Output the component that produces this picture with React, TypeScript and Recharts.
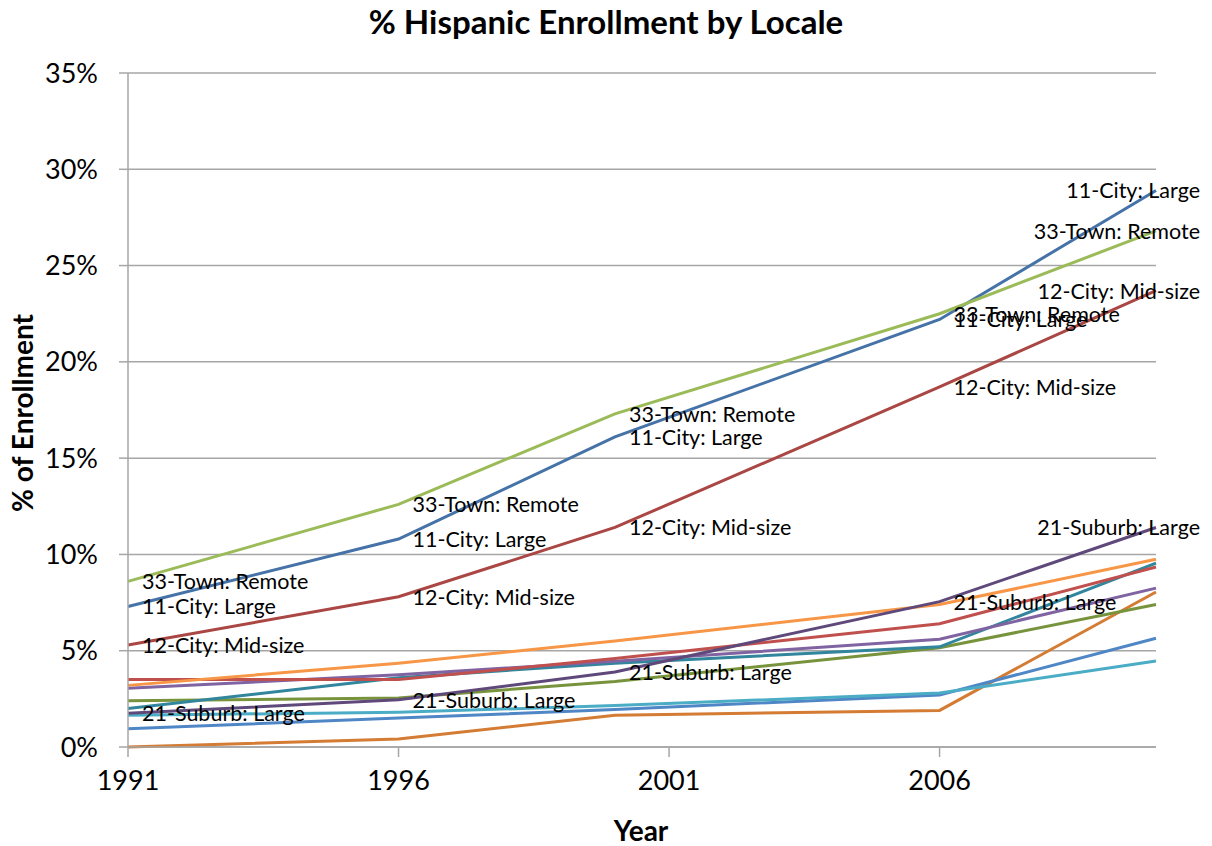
import { LineChart, Line, CartesianGrid, XAxis, YAxis, LabelList } from "recharts";

const years = [1991, 1996, 2000, 2006, 2010];
const xTicks = [1991, 1996, 2001, 2006];
const yTicks = [0, 5, 10, 15, 20, 25, 30, 35];

// % Hispanic enrollment
const townRemote = [8.6, 12.6, 17.3, 22.5, 26.8];
const cityLarge = [7.3, 10.8, 16.1, 22.2, 28.9];
const cityMid = [5.3, 7.8, 11.4, 18.7, 23.7];
const citySmall = [3.5, 3.5, 4.6, 6.4, 9.35];
const suburbMid = [3.2, 4.35, 5.5, 7.4, 9.75];
const suburbSmall = [3.05, 3.75, 4.45, 5.6, 8.25];
const townFringe = [2.4, 2.55, 3.4, 5.15, 7.4];
const townDistant = [2.0, 3.6, 4.35, 5.2, 9.55];
const suburbLarge = [1.75, 2.45, 3.9, 7.55, 11.4];
const ruralFringe = [1.65, 1.8, 2.15, 2.8, 4.47];
const ruralDistant = [0.95, 1.5, 1.95, 2.7, 5.65];
const ruralRemote = [0.0, 0.42, 1.65, 1.9, 8.05];

const series = [
  { key: "r43", name: "43-Rural: Remote", values: ruralRemote, color: "#D47B34", label: false },
  { key: "r42", name: "42-Rural: Distant", values: ruralDistant, color: "#4F86C6", label: false },
  { key: "r41", name: "41-Rural: Fringe", values: ruralFringe, color: "#4BACC6", label: false },
  { key: "t31", name: "31-Town: Fringe", values: townFringe, color: "#77933C", label: false },
  { key: "t32", name: "32-Town: Distant", values: townDistant, color: "#31859C", label: false },
  { key: "s23", name: "23-Suburb: Small", values: suburbSmall, color: "#8064A2", label: false },
  { key: "c13", name: "13-City: Small", values: citySmall, color: "#C0504D", label: false },
  { key: "s22", name: "22-Suburb: Mid-size", values: suburbMid, color: "#F79646", label: false },
  { key: "s21", name: "21-Suburb: Large", values: suburbLarge, color: "#5F497A", label: true },
  { key: "c12", name: "12-City: Mid-size", values: cityMid, color: "#AA4643", label: true },
  { key: "c11", name: "11-City: Large", values: cityLarge, color: "#4572A7", label: true },
  { key: "t33", name: "33-Town: Remote", values: townRemote, color: "#9BBB59", label: true },
];

const data = years.map((year, i) => {
  const row: Record<string, number> = { year };
  series.forEach((s) => {
    row[s.key] = s.values[i];
  });
  return row;
});

const FONT = "Lato, 'Open Sans', sans-serif";
const W = 1212;
const H = 846;

const makeLabel = (text: string) => (props: any) => {
  const { x, y, index } = props;
  const last = index === years.length - 1;
  return (
    <text
      x={last ? W - 12 : x + 14}
      y={y}
      textAnchor={last ? "end" : "start"}
      dominantBaseline="central"
      fontSize={21.5}
      fontFamily={FONT}
      fill="#000"
    >
      {text}
    </text>
  );
};

const App = () => {
  return (
    <div style={{ position: "absolute", left: 0, top: 0, width: W, height: H, background: "#fff", fontFamily: FONT }}>
      <div style={{ position: "absolute", left: 0, top: 1, width: W, textAlign: "center", fontSize: 33, fontWeight: 700, paddingLeft: 0 }}>
        % Hispanic Enrollment by Locale
      </div>
      <div
        style={{
          position: "absolute",
          left: 22,
          top: 413,
          transform: "translate(-50%, -50%) rotate(-90deg)",
          whiteSpace: "nowrap",
          fontSize: 28,
          fontWeight: 700,
        }}
      >
        % of Enrollment
      </div>
      <div style={{ position: "absolute", left: 641, top: 830, transform: "translate(-50%, -50%)", fontSize: 28, fontWeight: 700 }}>
        Year
      </div>
      <LineChart width={W} height={H} data={data} margin={{ top: 73, right: 56, bottom: 39, left: 0 }}>
        <CartesianGrid vertical={false} stroke="#A6A6A6" strokeWidth={1.5} />
        <XAxis
          dataKey="year"
          type="number"
          domain={[1991, 2010]}
          ticks={xTicks}
          height={60}
          tickSize={10}
          tickMargin={14}
          stroke="#A6A6A6"
          strokeWidth={1.5}
          tick={{ fill: "#000", fontSize: 27, fontFamily: FONT }}
        />
        <YAxis
          domain={[0, 35]}
          ticks={yTicks}
          width={128}
          tickSize={9}
          tickMargin={21}
          stroke="#A6A6A6"
          strokeWidth={1.5}
          tickFormatter={(v) => `${v}%`}
          tick={{ fill: "#000", fontSize: 27, fontFamily: FONT }}
        />
        {series.map((s) => (
          <Line
            key={s.key}
            type="linear"
            dataKey={s.key}
            name={s.name}
            stroke={s.color}
            strokeWidth={3}
            dot={false}
            isAnimationActive={false}
          >
            {s.label && <LabelList dataKey={s.key} content={makeLabel(s.name)} />}
          </Line>
        ))}
      </LineChart>
    </div>
  );
};

export default App;
